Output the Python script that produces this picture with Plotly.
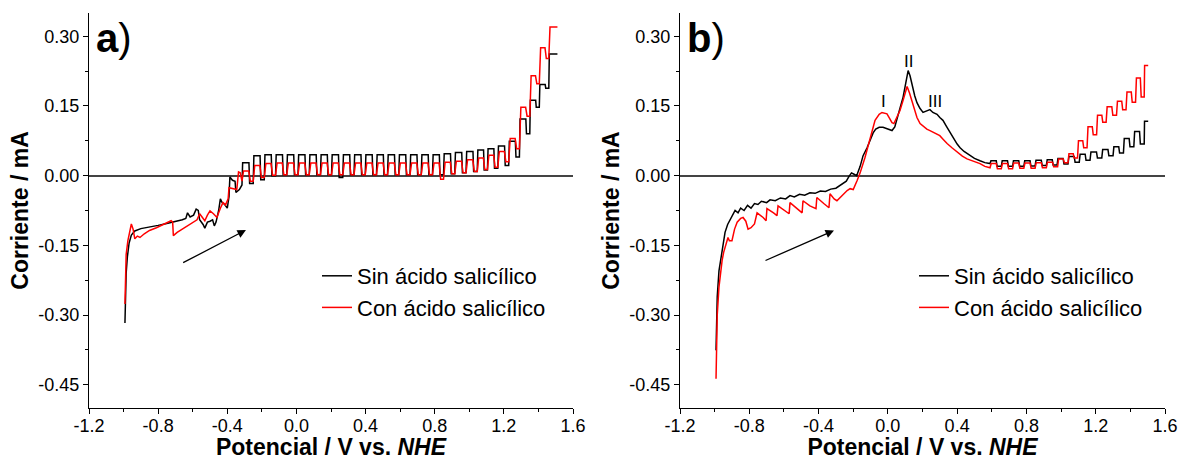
import plotly.graph_objects as go

# ---------------- data ----------------
SERIES_NAMES = ["Sin ácido salicílico", "Con ácido salicílico"]
SERIES_COLORS = ["#000000", "#ff0000"]

# Panel a) - irregular part before the pulse train
A_BLACK_X = [-0.992, -0.990, -0.985, -0.978, -0.968, -0.955, -0.935, -0.900, -0.850, -0.800,
             -0.750, -0.700, -0.660, -0.640, -0.630, -0.615, -0.595, -0.580, -0.568, -0.560,
             -0.540, -0.530, -0.515, -0.500, -0.485, -0.475, -0.465, -0.450, -0.440, -0.430,
             -0.415, -0.400, -0.390, -0.385, -0.370, -0.355, -0.350, -0.330, -0.315]
A_BLACK_Y = [-0.317, -0.260, -0.210, -0.175, -0.145, -0.128, -0.119, -0.114, -0.111, -0.107,
             -0.103, -0.099, -0.095, -0.092, -0.080, -0.089, -0.085, -0.072, -0.075, -0.095,
             -0.105, -0.113, -0.100, -0.098, -0.095, -0.108, -0.100, -0.075, -0.050, -0.058,
             -0.062, -0.070, -0.045, -0.003, -0.010, -0.012, -0.036, -0.030, -0.020]
A_RED_X = [-0.992, -0.990, -0.985, -0.975, -0.965, -0.955, -0.945, -0.935, -0.920, -0.905,
           -0.880, -0.850, -0.810, -0.770, -0.740, -0.725, -0.716, -0.712, -0.690, -0.660,
           -0.630, -0.600, -0.575, -0.560, -0.545, -0.530, -0.515, -0.500, -0.480, -0.460,
           -0.440, -0.425, -0.410, -0.395, -0.390, -0.360, -0.345, -0.335, -0.325, -0.315]
A_RED_Y = [-0.276, -0.220, -0.170, -0.140, -0.125, -0.104, -0.115, -0.136, -0.130, -0.133,
           -0.125, -0.118, -0.112, -0.105, -0.100, -0.097, -0.100, -0.129, -0.122, -0.115,
           -0.108, -0.100, -0.095, -0.082, -0.090, -0.097, -0.085, -0.076, -0.082, -0.090,
           -0.070, -0.058, -0.063, -0.050, -0.026, -0.028, -0.030, 0.008, 0.006, -0.012]

# Panel a) - pulse train (pulse start potential, plateau current, current after the pulse)
A_PULSE_X = [-0.315, -0.250, -0.186, -0.121, -0.056, 0.009, 0.074, 0.139, 0.203, 0.268,
             0.333, 0.398, 0.463, 0.527, 0.592, 0.657, 0.722, 0.787, 0.851, 0.916,
             0.981, 1.046, 1.105, 1.165, 1.228, 1.290, 1.350, 1.405, 1.460]
A_PULSE_END = 1.51
A_BLACK_HIGH = [0.028, 0.043, 0.045, 0.045, 0.045, 0.045, 0.045, 0.045, 0.045, 0.045,
                0.045, 0.045, 0.045, 0.045, 0.045, 0.045, 0.045, 0.045, 0.047, 0.050,
                0.052, 0.055, 0.058, 0.064, 0.074, 0.122, 0.162, 0.196, 0.262]
A_BLACK_LOW = [-0.017, -0.009, 0.000, 0.002, 0.002, 0.002, 0.002, 0.002, -0.004, 0.002,
               0.002, 0.002, 0.002, 0.002, 0.002, 0.002, 0.002, 0.002, 0.004, 0.006,
               0.009, 0.012, 0.016, 0.022, 0.040, 0.090, 0.147, 0.188, None]
A_RED_HIGH = [0.010, 0.022, 0.026, 0.027, 0.027, 0.027, 0.027, 0.027, 0.027, 0.027,
              0.027, 0.027, 0.027, 0.027, 0.027, 0.027, 0.027, 0.027, 0.029, 0.031,
              0.034, 0.038, 0.044, 0.052, 0.080, 0.147, 0.215, 0.275, 0.320]
A_RED_LOW = [-0.012, -0.004, 0.001, 0.002, 0.002, 0.002, 0.002, 0.002, 0.002, 0.002,
             0.002, 0.002, 0.002, 0.002, 0.002, 0.002, 0.002, -0.008, 0.004, 0.006,
             0.009, 0.013, 0.018, 0.030, 0.058, 0.128, 0.198, 0.252, None]

# Panel b) - continuous part
B_BLACK_X = [-0.992, -0.990, -0.985, -0.975, -0.960, -0.950, -0.940, -0.925, -0.910, -0.895,
             -0.882, -0.865, -0.850, -0.830, -0.810, -0.790, -0.770, -0.750, -0.730, -0.700,
             -0.680, -0.650, -0.620, -0.590, -0.565, -0.540, -0.510, -0.480, -0.450, -0.420,
             -0.390, -0.360, -0.330, -0.300, -0.280, -0.259, -0.240, -0.225, -0.210, -0.195,
             -0.180, -0.160, -0.143, -0.120, -0.103, -0.085, -0.070, -0.050, -0.028, 0.000,
             0.024, 0.040, 0.052, 0.070, 0.088, 0.105, 0.117, 0.128, 0.140, 0.155,
             0.168, 0.185, 0.203, 0.220, 0.243, 0.260, 0.284, 0.300, 0.318, 0.340,
             0.359, 0.380, 0.400, 0.417, 0.440, 0.474, 0.500, 0.532, 0.560, 0.590]
B_BLACK_Y = [-0.376, -0.320, -0.260, -0.205, -0.168, -0.140, -0.122, -0.105, -0.095, -0.082,
             -0.075, -0.080, -0.070, -0.075, -0.064, -0.070, -0.060, -0.062, -0.055, -0.058,
             -0.052, -0.054, -0.048, -0.050, -0.043, -0.046, -0.040, -0.042, -0.037, -0.038,
             -0.033, -0.034, -0.029, -0.027, -0.022, -0.018, -0.012, -0.002, 0.006, 0.003,
             0.000, 0.020, 0.043, 0.060, 0.075, 0.092, 0.100, 0.104, 0.104, 0.100,
             0.097, 0.105, 0.119, 0.145, 0.169, 0.200, 0.226, 0.215, 0.195, 0.172,
             0.157, 0.145, 0.136, 0.138, 0.142, 0.136, 0.132, 0.125, 0.119, 0.105,
             0.092, 0.080, 0.068, 0.060, 0.052, 0.043, 0.037, 0.032, 0.028, 0.026]
B_RED_X = [-0.992, -0.990, -0.985, -0.975, -0.965, -0.957, -0.948, -0.940, -0.932, -0.923,
           -0.915, -0.900, -0.885, -0.870, -0.850, -0.836, -0.820, -0.807, -0.790, -0.770,
           -0.755, -0.720, -0.703, -0.698, -0.660, -0.640, -0.634, -0.600, -0.570, -0.565,
           -0.530, -0.495, -0.490, -0.450, -0.415, -0.410, -0.370, -0.340, -0.334, -0.310,
           -0.294, -0.270, -0.259, -0.235, -0.218, -0.200, -0.178, -0.160, -0.132, -0.103,
           -0.074, -0.050, -0.034, -0.005, 0.024, 0.035, 0.053, 0.070, 0.088, 0.111,
           0.125, 0.140, 0.155, 0.168, 0.186, 0.203, 0.225, 0.243, 0.270, 0.300,
           0.320, 0.342, 0.370, 0.400, 0.430, 0.457, 0.500, 0.532, 0.560, 0.590]
B_RED_Y = [-0.437, -0.380, -0.300, -0.240, -0.200, -0.183, -0.165, -0.155, -0.140, -0.133,
           -0.140, -0.140, -0.115, -0.100, -0.092, -0.090, -0.098, -0.115, -0.112, -0.104,
           -0.080, -0.090, -0.097, -0.071, -0.080, -0.086, -0.065, -0.075, -0.082, -0.058,
           -0.070, -0.080, -0.054, -0.065, -0.071, -0.047, -0.060, -0.069, -0.039, -0.050,
           -0.054, -0.045, -0.039, -0.032, -0.028, -0.030, -0.011, 0.006, 0.039, 0.082,
           0.119, 0.132, 0.136, 0.133, 0.114, 0.112, 0.128, 0.140, 0.162, 0.192,
           0.178, 0.160, 0.140, 0.125, 0.112, 0.106, 0.100, 0.097, 0.092, 0.086,
           0.078, 0.069, 0.060, 0.050, 0.042, 0.036, 0.030, 0.026, 0.020, 0.017]

# Panel b) - pulse trains
B_BLACK_PULSE_X = [0.590, 0.655, 0.720, 0.785, 0.850, 0.915, 0.977, 1.040, 1.105, 1.167,
                   1.235, 1.300, 1.360, 1.420, 1.480]
B_BLACK_HIGH = [0.032, 0.032, 0.032, 0.032, 0.033, 0.034, 0.037, 0.041, 0.046, 0.051,
                0.056, 0.062, 0.080, 0.095, 0.117]
B_BLACK_LOW = [0.020, 0.020, 0.020, 0.021, 0.022, 0.023, 0.025, 0.029, 0.033, 0.038,
               0.043, 0.049, 0.062, 0.068, None]
B_RED_PULSE_X = [0.590, 0.655, 0.720, 0.785, 0.850, 0.915, 0.980, 1.040, 1.095, 1.150,
                 1.205, 1.260, 1.320, 1.375, 1.430, 1.480]
B_RED_HIGH = [0.026, 0.026, 0.027, 0.027, 0.028, 0.029, 0.036, 0.047, 0.075, 0.105,
              0.130, 0.148, 0.160, 0.180, 0.210, 0.237]
B_RED_LOW = [0.015, 0.015, 0.016, 0.016, 0.017, 0.019, 0.028, 0.038, 0.060, 0.088,
             0.115, 0.130, 0.142, 0.158, 0.169, None]
B_PULSE_END = 1.503

# axis ticks
X_TICKS = [-1.2, -0.8, -0.4, 0.0, 0.4, 0.8, 1.2, 1.6]
X_TICK_LABELS = ["-1.2", "-0.8", "-0.4", "0.0", "0.4", "0.8", "1.2", "1.6"]
Y_TICKS = [-0.45, -0.30, -0.15, 0.00, 0.15, 0.30]
Y_TICK_LABELS = ["-0.45", "-0.30", "-0.15", "0.00", "0.15", "0.30"]

# peak labels in panel b
PEAK_LABELS = ["I", "II", "III"]
PEAK_X = [-0.028, 0.122, 0.275]
PEAK_Y = [0.160, 0.245, 0.160]


# ---------------- build step traces ----------------
def with_pulses(xs, ys, starts, highs, lows, x_end, rise, duty):
    xs, ys = list(xs), list(ys)
    for i, x0 in enumerate(starts):
        x1 = starts[i + 1] if i + 1 < len(starts) else x_end
        w = x1 - x0
        xs.append(x0 + rise * w)
        ys.append(highs[i])
        if lows[i] is None:
            xs.append(x1)
            ys.append(highs[i])
        else:
            xs.append(x0 + duty * w)
            ys.append(highs[i])
            xs.append(x0 + (duty + rise) * w)
            ys.append(lows[i])
            xs.append(x1)
            ys.append(lows[i])
    return xs, ys


a_bx, a_by = with_pulses(A_BLACK_X, A_BLACK_Y, A_PULSE_X, A_BLACK_HIGH, A_BLACK_LOW, A_PULSE_END, 0.06, 0.62)
a_rx, a_ry = with_pulses(A_RED_X, A_RED_Y, A_PULSE_X, A_RED_HIGH, A_RED_LOW, A_PULSE_END, 0.14, 0.60)
b_bx, b_by = with_pulses(B_BLACK_X, B_BLACK_Y, B_BLACK_PULSE_X, B_BLACK_HIGH, B_BLACK_LOW, B_PULSE_END, 0.08, 0.55)
b_rx, b_ry = with_pulses(B_RED_X, B_RED_Y, B_RED_PULSE_X, B_RED_HIGH, B_RED_LOW, B_PULSE_END, 0.10, 0.55)

W, H = 1181, 460
ML, MR, MT, MB = 89, 16, 13, 52
PW, PH = W - ML - MR, H - MT - MB
FONT = "Liberation Sans, Arial, sans-serif"

fig = go.Figure()
panel_data = [
    ("x", "y", "legend", [(a_bx, a_by), (a_rx, a_ry)]),
    ("x2", "y2", "legend2", [(b_bx, b_by), (b_rx, b_ry)]),
]
for xa, ya, lg, curves in panel_data:
    for (cx, cy), name, color in zip(curves, SERIES_NAMES, SERIES_COLORS):
        fig.add_trace(go.Scatter(
            x=cx, y=cy, mode="lines", name=name, xaxis=xa, yaxis=ya, legend=lg,
            line=dict(color=color, width=1.5),
        ))


def px_x(p):
    return (p - ML) / PW


def px_y(p):
    return (H - MB - p) / PH


x_domains = [[px_x(89), px_x(573)], [px_x(680), px_x(1165)]]

common_x = dict(
    range=[-1.2, 1.6], tickmode="array", tickvals=X_TICKS, ticktext=X_TICK_LABELS,
    ticks="outside", ticklen=5, tickwidth=1.3, tickcolor="#000", ticklabelstandoff=-4,
    showline=True, linecolor="#000", linewidth=1.3, showgrid=False, zeroline=False,
    automargin=False,
    minor=dict(tickmode="linear", tick0=0, dtick=0.2, ticks="outside", ticklen=3,
               tickwidth=1.3, tickcolor="#000", showgrid=False),
    tickfont=dict(family=FONT, size=18, color="#000"),
    title=dict(text="<b>Potencial / V vs. <i>NHE</i></b>",
               font=dict(family=FONT, size=23, color="#000"), standoff=8),
)
common_y = dict(
    range=[-0.5, 0.35], tickmode="array", tickvals=Y_TICKS, ticktext=Y_TICK_LABELS,
    ticks="outside", ticklen=5, tickwidth=1.3, tickcolor="#000",
    showline=True, linecolor="#000", linewidth=1.3, showgrid=False,
    zeroline=True, zerolinecolor="#444", zerolinewidth=1.5,
    automargin=False,
    minor=dict(tickmode="linear", tick0=0, dtick=0.075, ticks="outside", ticklen=3,
               tickwidth=1.3, tickcolor="#000", showgrid=False),
    tickfont=dict(family=FONT, size=18, color="#000"),
    title=dict(text="<b>Corriente / mA</b>",
               font=dict(family=FONT, size=23, color="#000"), standoff=3),
    domain=[0, 1],
)

fig.update_layout(
    width=W, height=H, margin=dict(l=ML, r=MR, t=MT, b=MB, autoexpand=False),
    paper_bgcolor="white", plot_bgcolor="white",
    font=dict(family=FONT, color="#000"),
    xaxis=dict(common_x, domain=x_domains[0], anchor="y"),
    yaxis=dict(common_y, anchor="x"),
    xaxis2=dict(common_x, domain=x_domains[1], anchor="y2"),
    yaxis2=dict(common_y, anchor="x2"),
    legend=dict(x=px_x(317), y=px_y(255), xanchor="left", yanchor="top",
                bgcolor="rgba(0,0,0,0)", font=dict(family=FONT, size=22, color="#000"),
                tracegroupgap=0),
    legend2=dict(x=px_x(914), y=px_y(255), xanchor="left", yanchor="top",
                 bgcolor="rgba(0,0,0,0)", font=dict(family=FONT, size=22, color="#000"),
                 tracegroupgap=0),
    showlegend=True,
)

annotations = []
# panel letters
for label, xp in [("a", 94), ("b", 685)]:
    annotations.append(dict(
        text=f"<b>{label}</b>)", x=px_x(xp), y=px_y(38), xref="paper", yref="paper",
        xanchor="left", yanchor="middle", showarrow=False,
        font=dict(family=FONT, size=40, color="#000"),
    ))
# scan direction arrows
for xr, yr, x0, y0, x1, y1 in [("x", "y", -0.664, -0.189, -0.292, -0.117),
                               ("x2", "y2", -0.715, -0.184, -0.311, -0.118)]:
    annotations.append(dict(
        x=x1, y=y1, ax=x0, ay=y0, xref=xr, yref=yr, axref=xr, ayref=yr,
        showarrow=True, arrowhead=2, arrowsize=1.3, arrowwidth=1.3, arrowcolor="#000",
        text="",
    ))
# peak labels
for t, xv, yv in zip(PEAK_LABELS, PEAK_X, PEAK_Y):
    annotations.append(dict(
        text=t, x=xv, y=yv, xref="x2", yref="y2", showarrow=False,
        xanchor="center", yanchor="middle",
        font=dict(family=FONT, size=17, color="#000"),
    ))
fig.update_layout(annotations=annotations)

fig.write_html("out.html", config={"displayModeBar": False},
               post_script="document.body.style.margin='0px';")
